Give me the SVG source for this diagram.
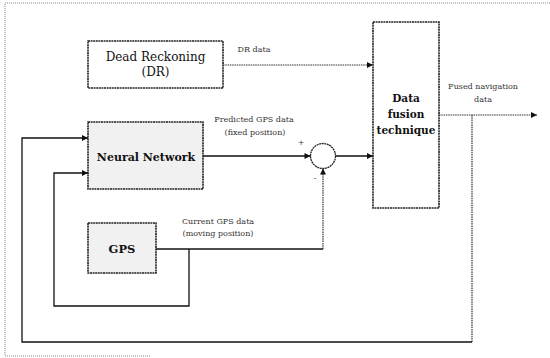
<svg xmlns="http://www.w3.org/2000/svg" width="550" height="358" viewBox="0 0 550 358">
<defs>
<marker id="ah" viewBox="0 0 10 10" refX="10" refY="5" markerWidth="8" markerHeight="6" markerUnits="userSpaceOnUse" orient="auto">
<path d="M0,0 L10,5 L0,10 z" fill="#111"/>
</marker>
</defs>
<style>
.frame{fill:none;stroke:#888;stroke-width:1;stroke-dasharray:1 1}
.box{stroke:#222;stroke-width:1.6;stroke-dasharray:2 0.6}
.fill{fill:#f1f1f1}
.white{fill:#fff}
text{font-family:'DejaVu Serif','Liberation Serif',serif;fill:#111;text-anchor:middle}
.bt{font-size:12px}
.b{font-weight:bold}
.lb{font-size:8px;fill:#333}
.c{fill:none;stroke:#111;stroke-width:1.3}
.d{fill:none;stroke:#333;stroke-width:1.2;stroke-dasharray:1.5 0.8}
</style>
<rect width="550" height="358" fill="#fff"/>
<path class="frame" d="M550,3 H5 V356 H150"/>
<g id="dr">
<rect class="box white" x="88" y="41" width="135" height="47"/>
<text class="bt" x="155.5" y="61">Dead Reckoning</text>
<text class="bt" x="155.5" y="76">(DR)</text>
</g>
<g id="nn">
<rect class="box fill" x="88" y="122" width="115" height="67"/>
<text class="b" x="146" y="161" font-size="11">Neural Network</text>
</g>
<g id="gps">
<rect class="box fill" x="88" y="223" width="68" height="50"/>
<text class="b" x="122" y="253" font-size="11.5">GPS</text>
</g>
<g id="fusion">
<rect class="box white" x="373" y="22" width="66" height="186"/>
<text class="b" x="406" y="102" font-size="10.5">Data</text>
<text class="b" x="406" y="118" font-size="10.5">fusion</text>
<text class="b" x="406" y="134" font-size="10.5">technique</text>
</g>
<g id="sum">
<circle cx="323" cy="156" r="12.5" fill="#fff" stroke="#222" stroke-width="1.3" stroke-dasharray="2 0.6"/>
<text class="lb" x="301" y="145" font-size="7">+</text>
<text class="lb" x="315" y="181" font-size="7">-</text>
</g>
<g id="connectors">
<path class="d" d="M223,65 H373" marker-end="url(#ah)"/>
<path class="c" d="M203,156 H310.5" marker-end="url(#ah)"/>
<path class="c" d="M335.5,156 H373" marker-end="url(#ah)"/>
<path class="c" d="M156,249 H323"/>
<path class="d" d="M323,249 V168.5" marker-end="url(#ah)"/>
<path class="c" d="M189,249 V306 H54 V173 H88" marker-end="url(#ah)"/>
<path class="d" d="M439,115 H537" marker-end="url(#ah)"/>
<path class="d" d="M472,115 V342"/>
<path class="c" d="M472,342 H22 V138 H88" marker-end="url(#ah)"/>
</g>
<g id="labels">
<text class="lb" x="254" y="52">DR data</text>
<text class="lb" x="254" y="122">Predicted GPS data</text>
<text class="lb" x="255" y="135">(fixed position)</text>
<text class="lb" x="218" y="224">Current GPS data</text>
<text class="lb" x="218" y="236">(moving position)</text>
<text class="lb" x="483" y="89">Fused navigation</text>
<text class="lb" x="483" y="102">data</text>
</g>
</svg>
